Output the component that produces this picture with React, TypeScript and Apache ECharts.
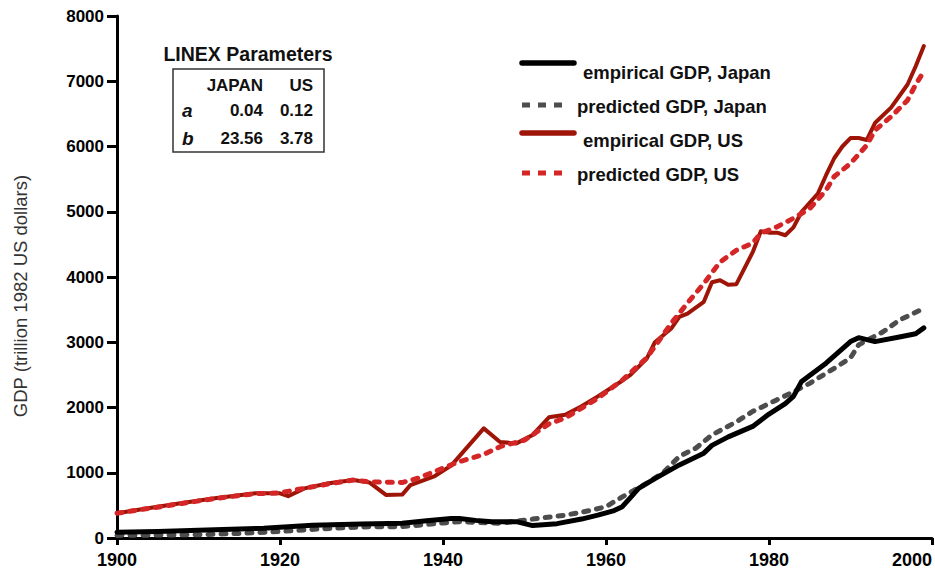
import React, { useEffect, useRef } from "react";
import * as echarts from "echarts";

const FONT = '"Liberation Sans", Arial, Helvetica, sans-serif';

const xTicks = [1900, 1920, 1940, 1960, 1980, 2000];
const yTicks = [0, 1000, 2000, 3000, 4000, 5000, 6000, 7000, 8000];

const seriesNames = [
  "empirical GDP, Japan",
  "predicted GDP, Japan",
  "empirical GDP, US",
  "predicted GDP, US",
];

const japanEmpirical: [number, number][] = [
  [1900, 90], [1905, 100], [1912, 125], [1918, 150], [1924, 195], [1930, 215],
  [1935, 225], [1938, 265], [1941, 300], [1942, 300], [1944, 270], [1946, 250],
  [1949, 250], [1951, 190], [1954, 220], [1957, 290], [1959, 350], [1961, 420],
  [1962, 480], [1963, 620], [1964, 760], [1966, 910], [1969, 1120], [1972, 1300],
  [1973, 1420], [1975, 1550], [1978, 1710], [1980, 1900], [1982, 2060], [1983, 2170],
  [1984, 2400], [1987, 2680], [1990, 3010], [1991, 3070], [1993, 3010], [1996, 3080],
  [1998, 3130], [1999, 3220],
];

const japanPredicted: [number, number][] = [
  [1900, 40], [1910, 50], [1915, 70], [1920, 100], [1925, 140], [1930, 170],
  [1935, 175], [1940, 230], [1942, 250], [1947, 225], [1951, 290], [1955, 350],
  [1958, 420], [1960, 480], [1962, 630], [1965, 840], [1967, 1000], [1969, 1250],
  [1971, 1375], [1973, 1580], [1976, 1780], [1978, 1940], [1981, 2120], [1983, 2240],
  [1985, 2370], [1988, 2600], [1990, 2760], [1991, 2960], [1994, 3160], [1996, 3340],
  [1999, 3520],
];

const usEmpirical: [number, number][] = [
  [1900, 380], [1904, 460], [1908, 535], [1912, 610], [1917, 685], [1920, 685],
  [1921, 640], [1923, 760], [1926, 840], [1929, 890], [1931, 850], [1933, 660],
  [1935, 665], [1936, 810], [1939, 950], [1941, 1110], [1945, 1680], [1947, 1470],
  [1949, 1450], [1951, 1580], [1953, 1850], [1955, 1890], [1957, 2020], [1959, 2170],
  [1962, 2410], [1963, 2500], [1965, 2750], [1966, 3000], [1968, 3210], [1969, 3390],
  [1970, 3440], [1972, 3620], [1973, 3920], [1974, 3950], [1975, 3880], [1976, 3890],
  [1978, 4380], [1979, 4700], [1980, 4680], [1981, 4680], [1982, 4640], [1983, 4760],
  [1984, 5000], [1986, 5280], [1987, 5560], [1988, 5820], [1989, 6000], [1990, 6130],
  [1991, 6130], [1992, 6100], [1993, 6360], [1995, 6600], [1997, 6950], [1998, 7230],
  [1999, 7540],
];

const usPredicted: [number, number][] = [
  [1900, 380], [1904, 455], [1908, 530], [1912, 605], [1917, 680], [1920, 690],
  [1922, 740], [1926, 830], [1929, 890], [1931, 860], [1935, 850], [1937, 920],
  [1941, 1120], [1942, 1170], [1945, 1280], [1947, 1400], [1950, 1500], [1953, 1750],
  [1955, 1840], [1959, 2140], [1962, 2420], [1965, 2760], [1968, 3290], [1970, 3600],
  [1972, 3900], [1974, 4230], [1976, 4410], [1978, 4520], [1979, 4670], [1981, 4770],
  [1983, 4900], [1985, 5050], [1987, 5330], [1988, 5540], [1990, 5740], [1992, 6020],
  [1993, 6250], [1995, 6460], [1997, 6710], [1998, 6950], [1999, 7150],
];

const tableTitle = "LINEX Parameters";
const tableHeader = ["JAPAN", "US"];
const tableRows: [string, string, string][] = [
  ["a", "0.04", "0.12"],
  ["b", "23.56", "3.78"],
];

const yAxisName = "GDP (trillion 1982 US dollars)";

const COLORS = {
  jpEmp: "#000000",
  jpPred: "#4d4d4d",
  usEmp: "#9e1508",
  usPred: "#d42626",
};

export default function App() {
  const ref = useRef<HTMLDivElement>(null);

  useEffect(() => {
    if (!ref.current) return;
    const chart = echarts.init(ref.current, null, { renderer: "svg" });

    const legendItems = [
      { name: seriesNames[0], color: COLORS.jpEmp, dashed: false, ly: 63, ty: 72 },
      { name: seriesNames[1], color: COLORS.jpPred, dashed: true, ly: 105, ty: 106 },
      { name: seriesNames[2], color: COLORS.usEmp, dashed: false, ly: 133, ty: 140 },
      { name: seriesNames[3], color: COLORS.usPred, dashed: true, ly: 173, ty: 174 },
    ];

    const graphic: any[] = [];
    legendItems.forEach((it) => {
      graphic.push({
        type: "line",
        shape: { x1: it.dashed ? 522 : 522, y1: it.ly, x2: it.dashed ? 565 : 574, y2: it.ly },
        style: {
          stroke: it.color,
          lineWidth: it.dashed ? 5 : 5.5,
          lineDash: it.dashed ? [8, 8] : null,
          lineCap: it.dashed ? "butt" : "round",
        },
      });
      graphic.push({
        type: "text",
        x: it.dashed ? 577 : 583,
        y: it.ty,
        style: {
          text: it.name,
          fontFamily: FONT,
          fontWeight: "bold",
          fontSize: 18.5,
          fill: "#111",
          align: "left",
          verticalAlign: "middle",
          textAlign: "left",
          textVerticalAlign: "middle",
        },
      });
    });

    // LINEX table
    graphic.push({
      type: "text",
      x: 248,
      y: 54,
      style: {
        text: tableTitle,
        fontFamily: FONT,
        fontWeight: "bold",
        fontSize: 19.5,
        fill: "#111",
        align: "center",
        verticalAlign: "middle",
        textAlign: "center",
        textVerticalAlign: "middle",
      },
    });
    graphic.push({
      type: "rect",
      shape: { x: 173, y: 69, width: 151, height: 83 },
      style: { fill: "none", stroke: "#333", lineWidth: 1.5 },
    });
    const colRight = [263, 313];
    const rowY = [85, 110, 138];
    tableHeader.forEach((h, i) => {
      graphic.push({
        type: "text",
        x: colRight[i],
        y: rowY[0],
        style: {
          text: h, fontFamily: FONT, fontWeight: "bold", fontSize: 17, fill: "#111",
          align: "right", verticalAlign: "middle", textAlign: "right", textVerticalAlign: "middle",
        },
      });
    });
    tableRows.forEach((r, ri) => {
      graphic.push({
        type: "text",
        x: 182,
        y: rowY[ri + 1],
        style: {
          text: r[0], fontFamily: FONT, fontWeight: "bold", fontStyle: "italic", fontSize: 19, fill: "#111",
          align: "left", verticalAlign: "middle", textAlign: "left", textVerticalAlign: "middle",
        },
      });
      [r[1], r[2]].forEach((v, ci) => {
        graphic.push({
          type: "text",
          x: colRight[ci],
          y: rowY[ri + 1],
          style: {
            text: v, fontFamily: FONT, fontWeight: "bold", fontSize: 17, fill: "#111",
            align: "right", verticalAlign: "middle", textAlign: "right", textVerticalAlign: "middle",
          },
        });
      });
    });

    // Y axis name
    graphic.push({
      type: "text",
      x: 20,
      y: 296,
      rotation: Math.PI / 2,
      style: {
        text: yAxisName, fontFamily: FONT, fontSize: 18.5, fill: "#333",
        align: "center", verticalAlign: "middle", textAlign: "center", textVerticalAlign: "middle",
      },
    });

    const lineSeries = (name: string, data: [number, number][], color: string, width: number, dashed: boolean, z: number) => ({
      name,
      type: "line",
      data,
      showSymbol: false,
      symbol: "none",
      z,
      lineStyle: {
        color,
        width,
        type: dashed ? [5, 8] : "solid",
        cap: dashed ? "round" : "round",
        join: "round",
      },
      itemStyle: { color },
      emphasis: { disabled: true },
    });

    chart.setOption({
      animation: false,
      backgroundColor: "#ffffff",
      textStyle: { fontFamily: FONT },
      grid: { left: 117, right: 0, top: 16, bottom: 37, containLabel: false },
      xAxis: {
        type: "value",
        min: xTicks[0],
        max: xTicks[xTicks.length - 1],
        interval: 20,
        splitLine: { show: false },
        axisLine: { show: true, onZero: false, lineStyle: { color: "#000", width: 3 } },
        axisTick: { show: true, length: 7, lineStyle: { color: "#000", width: 3 } },
        axisLabel: {
          color: "#000",
          fontWeight: "bold",
          fontSize: 18,
          fontFamily: FONT,
          margin: 13,
          alignMaxLabel: "right",
          formatter: (v: number) => (xTicks.includes(v) ? String(v) : ""),
        },
      },
      yAxis: {
        type: "value",
        min: yTicks[0],
        max: yTicks[yTicks.length - 1],
        interval: 1000,
        splitLine: { show: false },
        axisLine: { show: true, lineStyle: { color: "#000", width: 3 } },
        axisTick: { show: true, length: 10, lineStyle: { color: "#000", width: 3 } },
        axisLabel: {
          color: "#000",
          fontWeight: "bold",
          fontSize: 17,
          fontFamily: FONT,
          margin: 13,
          formatter: (v: number) => (yTicks.includes(v) ? String(v) : ""),
        },
      },
      series: [
        lineSeries(seriesNames[1], japanPredicted, COLORS.jpPred, 5, true, 2),
        lineSeries(seriesNames[0], japanEmpirical, COLORS.jpEmp, 5, false, 3),
        lineSeries(seriesNames[2], usEmpirical, COLORS.usEmp, 4, false, 4),
        lineSeries(seriesNames[3], usPredicted, COLORS.usPred, 5, true, 5),
      ],
      graphic,
    });

    return () => chart.dispose();
  }, []);

  return (
    <div
      ref={ref}
      style={{ position: "absolute", left: 0, top: 0, width: 935, height: 575, background: "#fff" }}
    />
  );
}
